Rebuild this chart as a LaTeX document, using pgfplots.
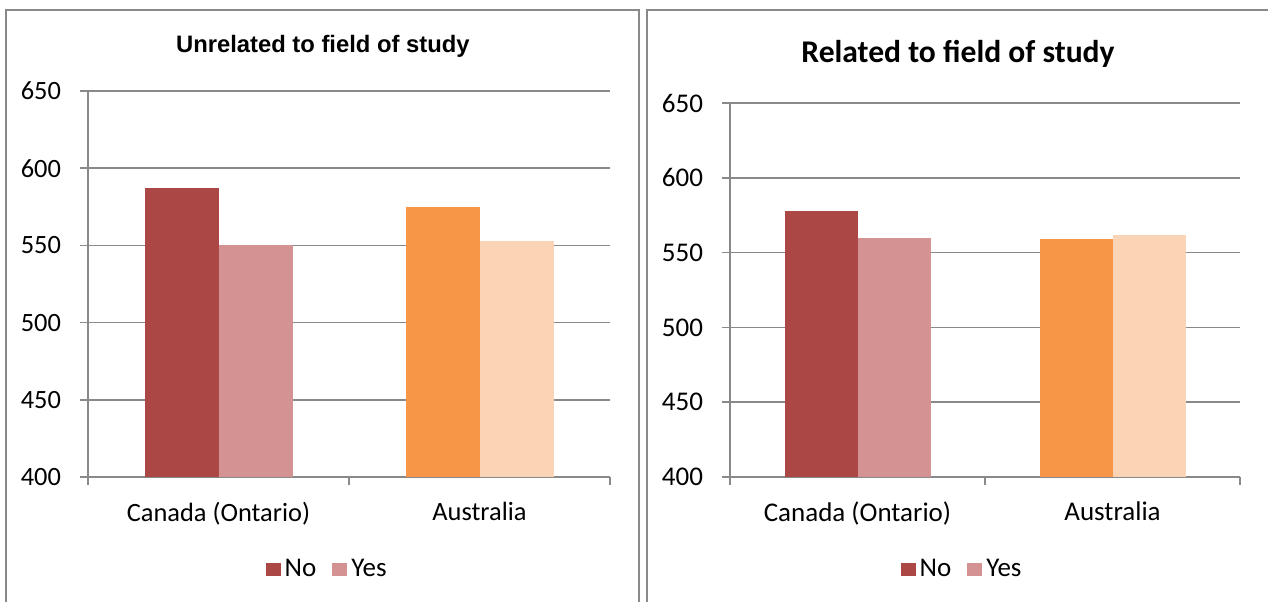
\documentclass[border=0pt]{standalone}
\usepackage{pgfplots}
\pgfplotsset{compat=1.18}
\usepackage{fontspec}
\setmainfont{Carlito}
\newfontfamily\arialfont{Liberation Sans}

\definecolor{noCan}{HTML}{AB4745}
\definecolor{yesCan}{HTML}{D49392}
\definecolor{noAus}{HTML}{F79646}
\definecolor{yesAus}{HTML}{FBD4B5}
\definecolor{gridgray}{HTML}{898989}

\pgfplotsset{
  panel/.style={
    scale only axis,
    ymin=400, ymax=650,
    ytick={400,450,...,650},
    xmin=0.5, xmax=2.5,
    xtick={1,2},
    xticklabels={Canada (Ontario),Australia},
    minor xtick={0.5,1.5,2.5},
    axis x line*=bottom,
    axis y line*=left,
    axis line style={gridgray, line width=0.8pt},
    ymajorgrids,
    major grid style={gridgray, line width=0.8pt},
    tick align=outside,
    major tick length=4pt,
    minor tick length=4pt,
    every tick/.style={gridgray, line width=0.8pt},
    every major x tick/.append style={draw=none},
    tick label style={font=\fontsize{#1}{16}\selectfont, black},
    /pgf/number format/assume math mode=true,
    yticklabel style={xshift=-6pt},
    xticklabel style={yshift=-5pt},
    ybar, ybar legend,
    legend columns=2,
    legend style={draw=none, fill=none, anchor=center,
      font=\fontsize{13.5}{16}\selectfont,
      /tikz/every even column/.append style={column sep=6pt}},
    legend image code/.code={\fill[##1] (0pt,-3.2pt) rectangle (7.5pt,3.3pt);},
  },
}

\begin{document}
\begin{tikzpicture}[x=0.5pt,y=0.5pt]
\clip (0,0) rectangle (1268,601);
% chart area frames
\draw[gridgray, line width=1pt] (5.5,601-10) rectangle (639,-20);
\draw[gridgray, line width=1pt] (647,601-10) rectangle (1290,-20);

% mean scores, x = 1 Canada (Ontario), x = 2 Australia
\begin{axis}[panel=13.2,
  at={(44pt,62pt)}, anchor=south west,
  width=261pt, height=193pt,
  bar width=37pt,
  title={\arialfont\bfseries\fontsize{11.9}{14}\selectfont Unrelated to field of study},
  title style={at={(0.45,1)}, anchor=center, yshift=16.5pt},
  legend style={at={(0.46,-0.24)}},
]
\addplot[fill=noCan, draw=none, bar shift=-18.5pt] coordinates {(1,587)};
\addplot[fill=yesCan, draw=none, bar shift=18.5pt] coordinates {(1,550)};
\addplot[fill=noAus, draw=none, bar shift=-18.5pt, forget plot] coordinates {(2,575)};
\addplot[fill=yesAus, draw=none, bar shift=18.5pt, forget plot] coordinates {(2,553)};
\legend{No,Yes}
\end{axis}

\begin{axis}[panel=13.5,
  at={(365pt,62pt)}, anchor=south west,
  width=255pt, height=187pt,
  bar width=36.5pt,
  title={\bfseries\fontsize{15.8}{19}\selectfont Related to field of study},
  title style={at={(0.447,1)}, anchor=center, yshift=18.5pt},
  legend style={at={(0.457,-0.247)}},
]
\addplot[fill=noCan, draw=none, bar shift=-18.25pt] coordinates {(1,578)};
\addplot[fill=yesCan, draw=none, bar shift=18.25pt] coordinates {(1,560)};
\addplot[fill=noAus, draw=none, bar shift=-18.25pt, forget plot] coordinates {(2,559)};
\addplot[fill=yesAus, draw=none, bar shift=18.25pt, forget plot] coordinates {(2,562)};
\legend{No,Yes}
\end{axis}
\end{tikzpicture}
\end{document}
